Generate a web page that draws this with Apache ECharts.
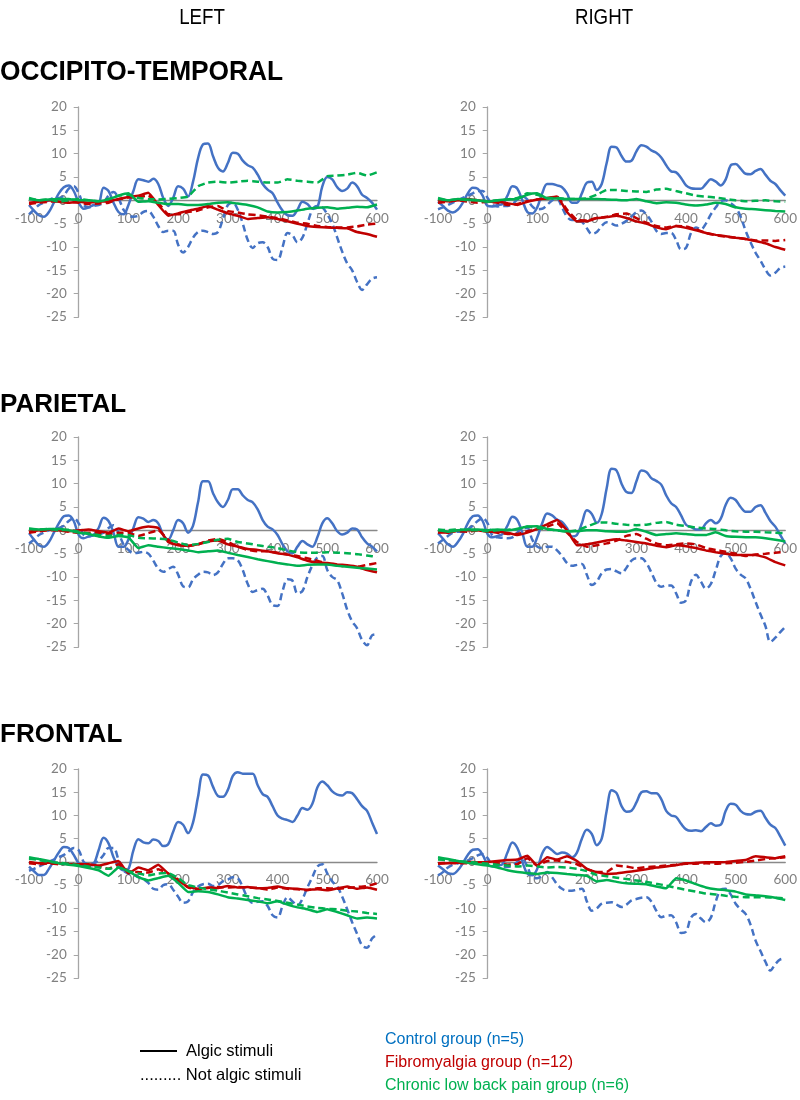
<!DOCTYPE html>
<html><head><meta charset="utf-8">
<script src="https://cdn.jsdelivr.net/npm/echarts@6/dist/echarts.min.js"></script>
<style>html,body{margin:0;padding:0;background:#fff}#c{width:800px;height:1100px}</style>
</head><body><div id="c"></div>
<script>
// time samples (ms)
const T10=[-100,-90,-80,-70,-60,-50,-40,-30,-20,-10,0,10,20,30,40,50,60,70,80,90,100,110,120,130,140,150,160,170,180,190,200,210,220,230,240,250,260,270,280,290,300,310,320,330,340,350,360,370,380,390,400,410,420,430,440,450,460,470,480,490,500,510,520,530,540,550,560,570,580,590,600];
const T20=[-100,-80,-60,-40,-20,0,20,40,60,80,100,120,140,160,180,200,220,240,260,280,300,320,340,360,380,400,420,440,460,480,500,520,540,560,580,600];
const xTicks=[-100,0,100,200,300,400,500,600];
const yTicks=[-25,-20,-15,-10,-5,0,5,10,15,20];

// ---- OCCIPITO-TEMPORAL LEFT ----
const occL_ctrl_alg=[-1.0,-2.2,-3.2,-3.5,-2.5,-0.5,1.5,2.8,3.2,2.0,-0.5,-1.8,-1.5,-1.0,-0.8,2.7,2.0,-0.5,-2.5,-3.0,-1.0,2.0,4.5,4.3,4.0,4.6,3.5,0.5,-1.2,0.5,3.0,2.5,0.8,4.0,9.0,12.0,12.2,9.5,7.0,6.2,8.0,10.2,10.0,8.5,7.5,7.0,5.5,3.5,2.3,1.5,-0.5,-2.2,-3.2,-3.3,-2.0,-0.3,-0.8,-1.8,-1.5,3.0,5.0,4.5,2.8,2.0,2.5,3.8,3.0,1.2,0.5,-0.5,-2.0];
const occL_ctrl_non=[-3.0,-2.0,-1.0,-0.5,0,0.5,0.5,1.0,2.5,3.0,1.5,-1.0,-1.5,-1.2,-1.0,-0.5,1.0,1.8,0.5,-2.0,-3.2,-3.5,-3.3,-2.5,-2.3,-3.5,-5.5,-6.8,-6.5,-6.5,-9.5,-11.2,-10.0,-8.0,-6.8,-6.5,-6.8,-7.2,-6.8,-4.0,-1.0,-0.5,-2.0,-5.0,-8.5,-10.2,-9.2,-9.0,-10.0,-12.5,-12.8,-10.0,-7.0,-7.5,-9.0,-8.0,-5.0,-2.0,-1.2,-1.5,-3.0,-5.0,-8.0,-11.0,-13.5,-15.0,-17.5,-19.2,-18.0,-16.8,-16.5];
const occL_fibro_alg=[-0.5,-0.3,0,-0.3,-0.5,-0.3,-0.5,-0.3,-0.2,0.3,0.7,1.0,1.6,-1.0,-3.3,-2.8,-2.2,-1.8,-1.2,-2.0,-2.8,-3.3,-4.0,-3.8,-3.6,-4.0,-4.5,-5.0,-5.5,-5.7,-5.8,-5.9,-6.0,-6.8,-7.2,-7.8];
const occL_fibro_non=[-0.8,-0.5,-0.3,-0.2,-0.3,-0.5,-0.8,-0.7,-0.5,0.2,0.6,0.7,1.0,-0.5,-3.0,-3.0,-2.5,-2.2,-1.5,-1.2,-2.3,-2.6,-3.0,-3.2,-3.5,-3.8,-4.3,-4.8,-5.0,-5.5,-5.7,-5.8,-5.8,-5.6,-5.2,-5.0];
const occL_clbp_alg=[0.3,0,0.2,0.3,0.3,0,0,-0.2,0.2,1.0,1.5,-0.3,-0.2,-0.5,-0.8,-0.8,-1.0,-1.0,-0.8,-0.5,-0.4,-0.7,-1.0,-1.5,-2.4,-2.6,-2.5,-2.2,-1.8,-1.6,-1.5,-1.8,-1.6,-1.4,-1.5,-0.9];
const occL_clbp_non=[0.5,0,0.2,-0.3,0,0.3,0,-0.2,0.3,1.0,1.2,0.5,0.3,0.2,0.3,0.5,0.8,3.0,3.8,4.0,3.8,4.0,4.2,4.0,3.8,3.8,4.5,4.2,4.0,3.8,5.2,5.3,5.5,5.9,5.3,6.0];

// ---- OCCIPITO-TEMPORAL RIGHT ----
const occR_ctrl_alg=[-0.3,-1.2,-2.2,-2.6,-2.0,-0.5,1.5,2.7,2.5,1.0,-1.2,-1.3,-1.0,-0.8,1.0,3.0,2.5,0,-2.5,-2.8,-1.5,1.5,3.5,3.5,3.2,2.8,1.5,-0.5,-0.5,1.5,3.8,4.0,2.2,3.5,8.0,11.5,11.3,9.5,8.3,8.5,10.5,11.8,11.5,10.7,10.2,9.2,7.5,6.2,6.0,4.8,3.2,2.6,2.5,2.5,3.5,4.5,4.0,3.2,4.5,7.5,7.8,6.8,5.7,5.6,6.3,6.7,5.5,4.2,3.5,2.2,1.0];
const occR_ctrl_non=[-1.9,-1.5,-1.0,-0.5,0,0.5,1.0,1.5,2.0,2.0,0.5,-1.0,-1.3,-1.2,-1.2,-0.8,0.2,0.8,0.2,-1.3,-1.9,-1.8,-1.0,0,0.3,-1.5,-3.5,-4.2,-4.2,-4.6,-6.0,-7.2,-6.8,-5.5,-4.7,-5.0,-5.4,-5.0,-4.4,-3.5,-2.5,-2.2,-3.0,-4.5,-6.5,-7.2,-7.0,-7.0,-8.5,-10.5,-10.2,-7.0,-5.8,-6.2,-5.0,-3.0,-1.5,-0.2,0,-0.6,-1.5,-3.5,-6.5,-9.0,-11.2,-12.9,-14.8,-16.1,-15.5,-14.5,-14.2];
const occR_fibro_alg=[0,-0.2,0,0.3,0,-0.3,-0.3,-0.6,-1.0,-0.3,0.2,0.4,0.8,-2.5,-4.5,-4.5,-3.8,-3.6,-3.3,-3.8,-4.5,-5.0,-5.8,-6.2,-5.5,-5.9,-6.4,-7.0,-7.4,-7.7,-8.0,-8.3,-8.7,-9.2,-10.0,-10.6];
const occR_fibro_non=[-0.5,-0.3,0,-0.3,-0.5,-0.3,-0.5,-1.0,-0.8,-0.2,0.2,0.5,0.8,-2.0,-4.2,-4.3,-3.8,-3.5,-3.0,-2.8,-3.8,-4.8,-5.5,-5.8,-5.5,-5.6,-6.2,-7.0,-7.5,-7.8,-8.0,-8.3,-8.6,-8.6,-8.7,-8.5];
const occR_clbp_alg=[0.5,0,0.3,0.2,0,-0.3,0,0.2,0.3,1.2,1.5,0.4,0.4,0.3,0.3,0.3,0.3,0.2,0.1,0,0.3,-0.2,-0.6,-0.4,-0.5,-0.9,-1.1,-0.9,-0.5,-0.8,-1.5,-1.8,-1.9,-2.1,-2.3,-2.4];
const occR_clbp_non=[0.3,0,0.3,0,0,-0.2,0,0.2,0.5,1.5,1.2,0.5,0.5,0.3,0.3,0.4,1.2,2.2,2.2,2.0,1.9,1.8,2.3,2.5,2.0,1.5,1.0,0.8,0.6,0.3,0,-0.2,-0.1,0,-0.2,-0.3];

// ---- PARIETAL LEFT ----
const parL_ctrl_alg=[-0.6,-2.0,-3.2,-3.5,-2.5,-0.5,1.5,3.0,3.2,2.0,-1.0,-1.7,-1.3,-1.0,0.5,2.7,2.0,-0.5,-3.5,-3.5,-2.0,0.5,2.8,2.5,1.8,2.2,1.5,-1.0,-2.0,0,2.2,1.5,-0.5,1.0,6.0,10.5,10.5,8.0,6.0,5.0,6.5,8.8,8.8,7.5,6.5,6.0,4.5,2.2,0.8,0.2,-1.0,-3.0,-4.5,-4.9,-3.5,-2.3,-3.0,-3.5,-1.5,1.5,2.6,1.5,-0.2,-0.9,-0.5,0.4,0.2,-1.5,-2.8,-3.5,-4.5];
const parL_ctrl_non=[-2.8,-2.0,-1.0,-0.5,0,0.3,0.5,1.0,2.0,2.6,1.5,-1.0,-1.3,-1.0,-0.8,-0.5,0.5,1.1,-0.5,-3.0,-4.2,-4.9,-4.8,-4.6,-5.0,-6.5,-8.2,-8.9,-8.3,-7.8,-9.5,-12.0,-12.2,-10.5,-9.5,-8.9,-9.0,-9.6,-9.0,-7.2,-6.0,-6.0,-6.4,-8.5,-11.5,-13.2,-12.8,-12.5,-14.0,-16.0,-16.2,-13.0,-10.5,-10.8,-13.5,-13.0,-10.0,-7.5,-5.8,-5.5,-8.5,-10.0,-10.7,-13.5,-17.0,-19.5,-21.0,-23.5,-24.6,-22.5,-22.3];
const parL_fibro_alg=[-0.3,0,0.2,0,-0.2,0,0.2,-0.2,-0.5,0.4,-0.2,0.4,0.8,0.5,-2.5,-3.2,-3.3,-3.0,-2.4,-2.2,-3.0,-3.5,-4.0,-4.2,-4.5,-4.9,-5.2,-5.8,-6.5,-6.9,-7.0,-7.3,-7.5,-7.8,-8.5,-9.0];
const parL_fibro_non=[-0.5,-0.2,0,0,-0.3,-0.5,-0.5,-0.5,-0.8,-0.5,-0.5,-1.2,-0.6,0,-2.0,-3.0,-3.4,-3.0,-2.2,-1.8,-2.5,-3.5,-4.2,-4.5,-4.5,-4.8,-5.2,-5.5,-6.0,-6.5,-7.2,-7.5,-7.8,-7.8,-7.4,-7.0];
const parL_clbp_alg=[0.4,0.2,0.3,0.3,0,-0.5,-0.8,-1.3,-1.6,-1.2,-1.5,-3.8,-3.2,-3.5,-3.8,-4.0,-4.3,-4.7,-4.5,-4.3,-4.8,-5.3,-5.7,-6.2,-6.6,-7.0,-7.3,-7.6,-7.4,-7.3,-7.3,-7.6,-7.8,-8.0,-8.2,-8.4];
const parL_clbp_non=[0.3,0.2,0.3,0,0.1,-0.3,-0.7,-1.0,-1.2,-1.0,-1.0,-1.6,-1.7,-1.8,-2.0,-2.6,-3.2,-2.9,-2.5,-2.0,-1.8,-2.5,-2.8,-3.2,-3.5,-3.8,-4.3,-4.7,-4.8,-4.8,-4.7,-4.8,-4.9,-5.1,-5.4,-5.7];

// ---- PARIETAL RIGHT ----
const parR_ctrl_alg=[-0.6,-1.8,-3.0,-3.5,-2.5,-0.8,1.5,3.0,3.2,2.0,-0.8,-1.5,-1.2,-0.8,1.0,2.9,2.2,-0.5,-3.5,-3.5,-1.5,1.5,3.6,3.2,2.3,1.8,0.5,-1.3,-1.0,1.5,4.3,3.5,1.6,3.5,9.0,13.2,12.8,10.0,8.2,8.0,10.5,12.8,12.5,11.2,10.6,9.8,7.5,5.8,5.0,3.2,1.2,0.7,0.2,0.2,1.5,2.2,1.5,2.5,5.5,7.0,6.5,5.0,4.0,4.0,5.0,5.4,3.8,2.0,0.8,-1.0,-2.8];
const parR_ctrl_non=[-2.8,-2.0,-1.2,-0.5,-0.3,-0.3,0.2,1.0,2.0,2.6,1.5,-1.2,-1.5,-1.6,-1.7,-1.5,-0.5,0.5,0.5,-2.0,-3.5,-3.8,-3.5,-3.5,-4.3,-5.5,-7.0,-7.6,-7.4,-7.2,-9.5,-11.7,-11.0,-9.2,-8.4,-8.3,-8.8,-9.2,-8.0,-6.5,-6.0,-6.0,-7.0,-9.0,-11.2,-12.1,-11.8,-11.8,-13.5,-15.5,-15.0,-11.0,-9.5,-11.0,-12.5,-11.5,-8.5,-5.5,-4.9,-6.0,-8.2,-9.5,-10.3,-12.5,-15.3,-18.0,-20.5,-23.9,-23.0,-21.8,-20.7];
const parR_fibro_alg=[-0.3,-0.5,0,0,0,-0.3,-0.3,-0.5,-1.0,-0.5,0.3,1.3,2.2,0,-3.2,-3.0,-2.6,-2.2,-1.9,-2.2,-2.5,-2.8,-3.3,-3.6,-3.2,-3.4,-3.8,-4.3,-4.7,-5.0,-5.3,-5.3,-5.3,-5.8,-6.8,-7.5];
const parR_fibro_non=[-0.5,-0.3,-0.2,-0.3,0,-0.2,-0.5,-0.8,-0.8,-0.2,0.3,0.8,1.5,-0.5,-2.5,-3.5,-3.2,-2.8,-2.2,-1.2,-0.8,-1.8,-2.8,-3.2,-3.0,-2.8,-3.0,-3.8,-4.2,-4.6,-5.0,-5.5,-5.2,-5.0,-4.8,-4.6];
const parR_clbp_alg=[0,-0.3,0,0.2,0.2,0,0.2,0,0.3,0.8,0.9,0.3,0,-0.2,-0.2,0,0,-0.2,-0.3,-0.3,0.3,-0.3,-1.0,-0.8,-0.6,-0.8,-1.0,-1.0,-0.4,-1.2,-1.4,-1.5,-1.5,-1.7,-2.0,-2.4];
const parR_clbp_non=[0.2,0,0.2,0,0,-0.2,0,0.1,0.3,0.8,0.5,0.2,0,-0.3,0,0.8,1.6,1.7,1.4,1.2,1.1,1.2,1.6,1.8,1.2,0.9,0.6,0.4,0.3,0,-0.2,-0.3,-0.3,-0.4,-0.5,-0.6];

// ---- FRONTAL LEFT ----
const froL_ctrl_alg=[-1.0,-2.0,-2.8,-2.8,-1.5,0.3,2.0,3.2,3.0,1.5,-0.3,-1.0,-0.8,-0.5,2.5,5.2,4.0,1.0,-1.0,-1.8,-1.5,2.5,4.9,4.2,4.0,4.8,4.5,3.4,3.8,6.5,8.6,8.0,6.2,8.5,14.0,18.8,18.6,16.2,14.2,14.0,15.5,18.5,19.3,19.0,19.0,19.0,16.5,14.6,14.0,12.0,10.0,9.3,9.0,8.6,10.0,11.6,11.2,12.5,16.0,17.3,16.5,15.2,14.5,14.3,15.0,14.8,13.5,12.0,11.0,8.5,6.0];
const froL_ctrl_non=[-1.9,-1.5,-1.0,-0.5,0,0.5,1.0,1.5,2.3,3.0,2.5,0,-0.5,-0.3,0.3,1.5,3.0,3.0,0.5,-1.8,-2.5,-2.8,-3.3,-3.7,-4.5,-5.8,-6.0,-5.0,-4.8,-6.0,-7.5,-8.8,-8.5,-6.5,-5.3,-4.8,-4.7,-5.2,-5.0,-4.2,-3.8,-3.3,-3.5,-5.5,-7.8,-8.8,-8.6,-8.5,-9.5,-11.5,-12.0,-9.5,-7.6,-8.5,-9.4,-8.0,-5.5,-3.3,-1.0,-0.5,-2.5,-4.2,-5.3,-7.5,-10.2,-13.0,-15.5,-18.0,-18.5,-16.5,-15.7];
const froL_fibro_alg=[0,-0.3,-0.2,-0.3,-0.5,-0.5,-0.5,-0.8,-0.3,0.2,-2.5,-1.2,-1.8,-0.6,-2.5,-4.0,-5.4,-5.8,-5.5,-5.6,-5.2,-5.5,-5.4,-5.7,-5.6,-5.3,-5.7,-5.8,-6.0,-5.9,-6.1,-5.7,-5.3,-5.8,-5.5,-6.0];
const froL_fibro_non=[-0.3,-0.5,-0.3,-0.5,-0.3,-0.6,-0.8,-1.0,-1.5,-0.5,-2.0,-2.2,-2.3,-1.6,-2.5,-3.8,-5.5,-6.0,-5.6,-5.4,-5.5,-5.4,-5.5,-5.6,-6.0,-5.5,-5.8,-5.9,-6.1,-5.7,-5.7,-5.8,-5.6,-5.4,-5.2,-4.6];
const froL_clbp_alg=[1.0,0.6,0.2,-0.3,-0.6,-0.9,-1.3,-1.8,-3.0,-1.2,-2.0,-3.3,-4.0,-3.5,-3.0,-4.5,-6.5,-6.3,-6.5,-7.0,-7.6,-7.9,-8.2,-8.5,-8.9,-8.5,-9.2,-9.8,-10.2,-10.8,-10.2,-10.8,-11.5,-12.2,-12.0,-12.2];
const froL_clbp_non=[0.7,0.4,0,-0.2,-0.4,-0.7,-1.0,-1.2,-1.5,-1.2,-2.0,-2.5,-2.9,-2.5,-2.4,-3.5,-5.0,-5.5,-5.9,-6.2,-6.6,-7.0,-7.4,-7.8,-8.1,-8.4,-8.8,-9.2,-9.6,-9.9,-10.1,-10.2,-10.5,-10.7,-11.0,-11.2];

// ---- FRONTAL RIGHT ----
const froR_ctrl_alg=[-0.8,-1.6,-2.4,-2.6,-1.8,-0.3,1.5,2.6,2.7,1.5,-0.5,-1.0,-0.8,-0.5,2.0,4.2,3.0,0,-2.5,-2.9,-1.5,1.8,3.2,2.5,1.7,2.0,1.8,1.0,2.0,5.0,6.9,6.0,3.6,5.0,11.0,15.4,14.8,12.0,10.8,11.0,12.8,15.0,15.2,14.8,14.8,13.5,11.0,10.0,9.7,8.2,7.0,6.7,6.8,6.6,7.5,8.3,7.8,8.0,11.0,12.5,12.3,11.0,10.3,10.2,10.8,11.0,9.5,8.0,7.3,5.5,3.5];
const froR_ctrl_non=[-2.9,-2.2,-1.2,-0.6,-0.3,0,0.3,0.8,1.4,1.7,0.8,-0.8,-1.0,-1.1,-1.1,-0.8,0,0.6,-1.0,-3.3,-3.5,-3.0,-2.2,-3.3,-4.8,-5.8,-6.2,-6.2,-6.0,-5.8,-8.5,-10.5,-10.0,-9.0,-8.8,-8.7,-9.2,-9.7,-9.2,-8.3,-8.0,-7.7,-7.6,-8.5,-10.5,-11.9,-11.6,-11.5,-13.0,-15.3,-15.0,-12.0,-11.2,-12.2,-13.0,-12.0,-8.5,-6.0,-5.8,-7.0,-9.0,-10.2,-11.2,-13.5,-16.9,-19.2,-21.5,-23.4,-22.0,-21.0,-20.8];
const froR_fibro_alg=[-0.4,-0.3,-0.2,0,-0.1,0,0.2,0.4,0.5,1.3,-0.8,1.0,0.5,1.2,0.2,-1.5,-2.2,-2.6,-2.5,-2.2,-1.9,-1.6,-1.2,-1.0,-0.7,-0.3,-0.2,-0.1,-0.1,0,0.2,0.4,1.2,1.0,0.8,1.2];
const froR_fibro_non=[-0.3,-0.2,-0.3,-0.3,-0.2,-0.3,-0.3,-0.6,-0.5,0.8,-0.8,0.2,0.3,0,-0.5,-1.5,-2.2,-2.2,-0.8,-1.0,-1.4,-1.1,-1.0,-0.8,-0.6,-0.4,-0.4,-0.3,-0.4,-0.3,-0.2,0,0.3,0.6,0.8,1.0];
const froR_clbp_alg=[1.0,0.6,0.2,-0.2,-0.5,-0.8,-1.2,-1.8,-2.2,-2.4,-2.6,-2.3,-2.4,-2.6,-2.8,-3.0,-4.2,-3.9,-4.3,-4.6,-4.7,-4.8,-5.3,-5.7,-3.5,-4.0,-4.8,-5.5,-5.9,-6.1,-6.4,-7.0,-7.2,-7.4,-7.7,-8.2];
const froR_clbp_non=[0.5,0.4,0.2,0,-0.2,-0.4,-0.6,-0.8,-1.0,-0.8,-1.0,-1.2,-1.1,-1.2,-1.5,-2.0,-2.8,-3.1,-3.4,-3.7,-4.0,-4.3,-4.7,-5.1,-5.6,-6.0,-6.4,-6.8,-7.0,-7.3,-7.5,-7.6,-7.6,-7.6,-7.7,-7.9];

// ---- layout / style ----
const BLUE='#4472c4', RED='#c00000', GREEN='#00b050';
const GW=348;
const panels=[
  {left:29, top:107, h:210, s:[occL_ctrl_non,occL_ctrl_alg,occL_fibro_non,occL_fibro_alg,occL_clbp_non,occL_clbp_alg]},
  {left:438,top:107, h:210, s:[occR_ctrl_non,occR_ctrl_alg,occR_fibro_non,occR_fibro_alg,occR_clbp_non,occR_clbp_alg]},
  {left:29, top:437, h:210, s:[parL_ctrl_non,parL_ctrl_alg,parL_fibro_non,parL_fibro_alg,parL_clbp_non,parL_clbp_alg]},
  {left:438,top:437, h:210, s:[parR_ctrl_non,parR_ctrl_alg,parR_fibro_non,parR_fibro_alg,parR_clbp_non,parR_clbp_alg]},
  {left:29, top:769, h:209, s:[froL_ctrl_non,froL_ctrl_alg,froL_fibro_non,froL_fibro_alg,froL_clbp_non,froL_clbp_alg]},
  {left:438,top:769, h:209, s:[froR_ctrl_non,froR_ctrl_alg,froR_fibro_non,froR_fibro_alg,froR_clbp_non,froR_clbp_alg]}
];
const styles=[
  {c:BLUE, dash:true, T:T10, sm:0.35},
  {c:BLUE, dash:false,T:T10, sm:0.35},
  {c:RED,  dash:true, T:T20, sm:0.1},
  {c:RED,  dash:false,T:T20, sm:0.1},
  {c:GREEN,dash:true, T:T20, sm:0.1},
  {c:GREEN,dash:false,T:T20, sm:0.1}
];
const xMin=xTicks[0], xMax=xTicks[xTicks.length-1], yMin=yTicks[0], yMax=yTicks[yTicks.length-1];
const grid=[],xAxis=[],yAxis=[],series=[];
panels.forEach((p,i)=>{
  grid.push({left:p.left, top:p.top, width:GW, height:p.h, containLabel:false});
  // place the x axis on the zero line and the y axis on time 0 (axis + labels move together)
  const xOff=-p.h*(0-yMin)/(yMax-yMin);
  const yOff=-GW*(0-xMin)/(xMax-xMin);
  xAxis.push({gridIndex:i,type:'value',min:xMin,max:xMax,interval:100,position:'bottom',offset:xOff,
    axisLine:{onZero:false,lineStyle:{color:'#898989',width:1.3}},axisTick:{show:false},splitLine:{show:false},
    axisLabel:{color:'#808080',fontSize:13.5,fontFamily:'Lato',margin:11}});
  yAxis.push({gridIndex:i,type:'value',min:yMin,max:yMax,interval:5,position:'left',offset:yOff,
    axisLine:{show:true,onZero:false,lineStyle:{color:'#a6a6a6',width:1.3}},
    axisTick:{show:true,length:5,lineStyle:{color:'#a6a6a6'}},splitLine:{show:false},
    axisLabel:{color:'#808080',fontSize:13.5,fontFamily:'Lato',margin:12}});
  p.s.forEach((arr,k)=>{
    const st=styles[k];
    series.push({type:'line',xAxisIndex:i,yAxisIndex:i,showSymbol:false,symbol:'none',smooth:st.sm,
      animation:false,z:2+k,
      lineStyle:{color:st.c,width:2.5,type:st.dash?[7,4]:'solid'},
      data:st.T.map((t,j)=>[t,arr[j]])});
  });
});
const F='"Liberation Sans", Arial, sans-serif';
const graphic=[
  {type:'text',x:202,y:18,scaleX:0.85,style:{text:'LEFT',font:'22px '+F,fill:'#000',align:'center',verticalAlign:'middle'}},
  {type:'text',x:604,y:18,scaleX:0.85,style:{text:'RIGHT',font:'22px '+F,fill:'#000',align:'center',verticalAlign:'middle'}},
  {type:'text',x:0,y:72,scaleX:0.94,style:{text:'OCCIPITO-TEMPORAL',font:'bold 28px '+F,fill:'#000',align:'left',verticalAlign:'middle'}},
  {type:'text',x:0,y:405,style:{text:'PARIETAL',font:'bold 26px '+F,fill:'#000',align:'left',verticalAlign:'middle'}},
  {type:'text',x:0,y:735,style:{text:'FRONTAL',font:'bold 26px '+F,fill:'#000',align:'left',verticalAlign:'middle'}},
  {type:'line',shape:{x1:140,y1:1051,x2:177,y2:1051},style:{stroke:'#000',lineWidth:2}},
  {type:'text',x:186,y:1051,style:{text:'Algic stimuli',font:'16.5px '+F,fill:'#000',align:'left',verticalAlign:'middle'}},
  {type:'text',x:140,y:1075,style:{text:'......... Not algic stimuli',font:'16.5px '+F,fill:'#000',align:'left',verticalAlign:'middle'}},
  {type:'text',x:385,y:1040,style:{text:'Control group (n=5)',font:'16px '+F,fill:'#0070c0',align:'left',verticalAlign:'middle'}},
  {type:'text',x:385,y:1063,style:{text:'Fibromyalgia group (n=12)',font:'16px '+F,fill:'#c00000',align:'left',verticalAlign:'middle'}},
  {type:'text',x:385,y:1086,style:{text:'Chronic low back pain group (n=6)',font:'16px '+F,fill:'#00b050',align:'left',verticalAlign:'middle'}}
];
const chart=echarts.init(document.getElementById('c'),null,{renderer:'canvas'});
chart.setOption({animation:false,backgroundColor:'#fff',grid,xAxis,yAxis,series,graphic});
</script></body></html>
